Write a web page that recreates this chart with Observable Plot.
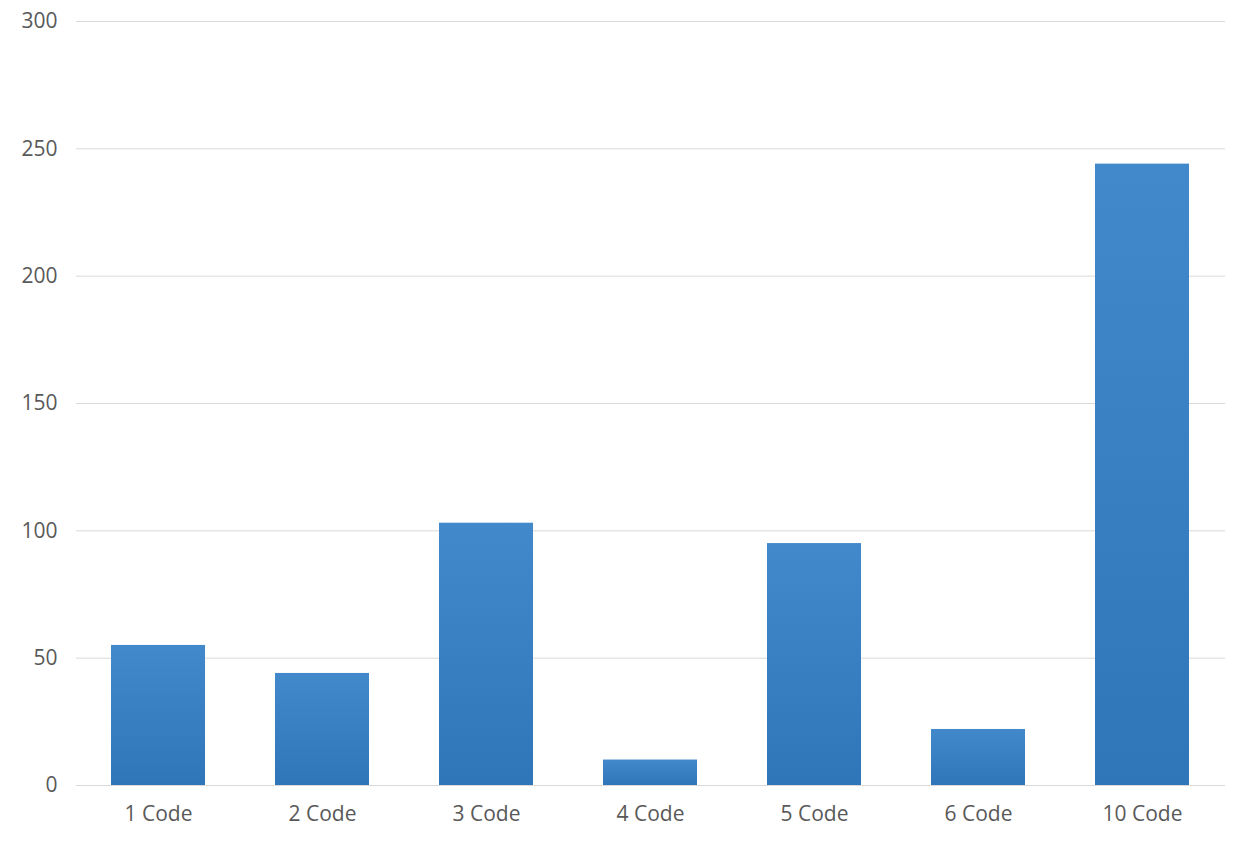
<!DOCTYPE html>
<html>
<head>
<meta charset="utf-8">
<script src="https://cdn.jsdelivr.net/npm/d3@7"></script>
<script src="https://cdn.jsdelivr.net/npm/@observablehq/plot@0.6"></script>
<style>
  html, body { margin: 0; padding: 0; background: #ffffff; }
  #chart { width: 1257px; height: 846px; }
  #chart svg text { font-size: 21px; }
</style>
</head>
<body>
<div id="chart"></div>
<script>
const categories = ["1 Code", "2 Code", "3 Code", "4 Code", "5 Code", "6 Code", "10 Code"];
const values = [55, 44, 103, 10, 95, 22, 244];
const yTicks = [0, 50, 100, 150, 200, 250, 300];

const data = categories.map((c, i) => ({category: c, value: values[i]}));

const chart = Plot.plot({
  width: 1257,
  height: 846,
  marginLeft: 76,
  marginRight: 32,
  marginTop: 21,
  marginBottom: 61,
  style: {fontFamily: "'Open Sans', sans-serif", fontSize: "21px", color: "#595959", background: "#ffffff"},
  x: {domain: categories, paddingInner: 0.426, paddingOuter: 0.213, label: null},
  y: {domain: [0, 300], label: null},
  marks: [
    () => {
      const svg = d3.create("svg:defs");
      const g = svg.append("linearGradient").attr("id", "barGrad").attr("x1", 0).attr("y1", 0).attr("x2", 0).attr("y2", 1);
      g.append("stop").attr("offset", "0%").attr("stop-color", "#4289cb");
      g.append("stop").attr("offset", "100%").attr("stop-color", "#2e76b8");
      return svg.node();
    },
    Plot.gridY(yTicks, {stroke: "#d9d9d9", strokeOpacity: 1, strokeWidth: 1}),
    Plot.barY(data, {x: "category", y: "value", fill: "url(#barGrad)"}),
    Plot.axisY(yTicks, {tickSize: 0, tickPadding: 19, fill: "#595959", fontSize: 21}),
    Plot.axisX(categories, {tickSize: 0, tickPadding: 21, fill: "#595959", fontSize: 21})
  ]
});
document.getElementById("chart").appendChild(chart);
</script>
</body>
</html>
